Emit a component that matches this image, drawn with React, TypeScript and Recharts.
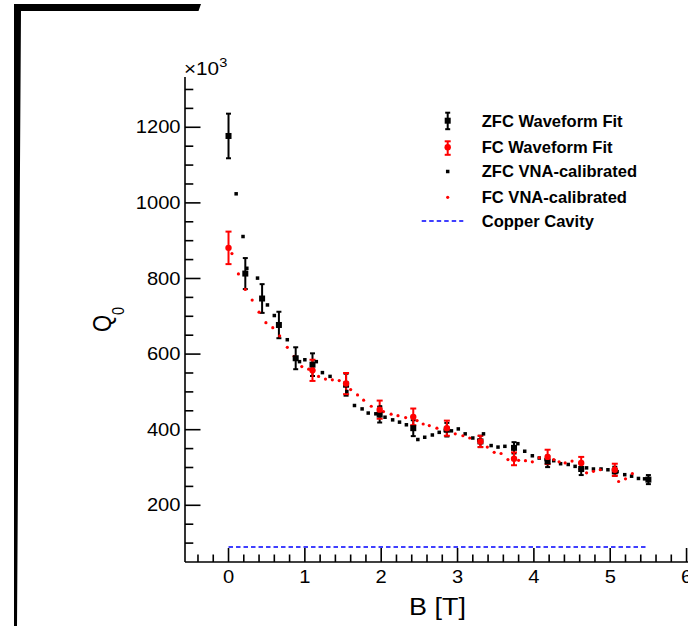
import React from 'react';
import { ComposedChart, Scatter, XAxis, YAxis, ErrorBar, Legend } from 'recharts';

// ---------- data ----------
const zfcFitB = [0, 0.22, 0.44, 0.66, 0.88, 1.10, 1.54, 1.98, 2.42, 2.86, 3.30, 3.74, 4.18, 4.62, 5.06, 5.50];
const zfcFitQ = [1177, 813, 747, 677, 589, 572, 519, 440, 404, 400, 369, 352, 316, 296, 290, 268];
const zfcFitErr = [59, 41, 38, 35, 29, 30, 29, 21, 21, 18, 15, 15, 15, 16, 12, 12];

const fcFitB = [0, 1.10, 1.54, 1.98, 2.42, 2.86, 3.30, 3.74, 4.18, 4.62, 5.06];
const fcFitQ = [881, 557, 522, 453, 434, 404, 369, 323, 328, 312, 294];
const fcFitErr = [43, 28, 28, 24, 22, 20, 15, 17, 19, 16, 16];

const zfcVnaB = [0.10, 0.19, 0.24, 0.38, 0.51, 0.60, 0.77, 0.93, 1.00, 1.15, 1.23, 1.33, 1.55, 1.65, 1.75, 1.83, 1.93, 1.99, 2.05, 2.15, 2.24, 2.33, 2.48, 2.57, 2.67, 2.76, 2.84, 2.92, 3.01, 3.10, 3.20, 3.28, 3.34, 3.44, 3.53, 3.62, 3.79, 3.88, 3.98, 4.07, 4.16, 4.26, 4.35, 4.45, 4.54, 4.69, 4.78, 4.88, 4.97, 5.09, 5.19, 5.28, 5.37, 5.45];
const zfcVnaQ = [1024, 911, 827, 801, 730, 702, 638, 580, 585, 580, 551, 541, 501, 464, 455, 444, 442, 460, 433, 426, 420, 413, 374, 380, 386, 393, 398, 397, 402, 389, 378, 372, 389, 358, 354, 356, 363, 343, 331, 325, 321, 318, 310, 308, 303, 299, 296, 296, 294, 289, 281, 277, 271, 270];

const fcVnaB = [0.045, 0.13, 0.22, 0.31, 0.40, 0.49, 0.58, 0.67, 0.77, 0.86, 0.96, 1.05, 1.18, 1.27, 1.36, 1.45, 1.60, 1.69, 1.77, 1.87, 2.03, 2.13, 2.22, 2.32, 2.47, 2.55, 2.63, 2.73, 2.97, 3.07, 3.16, 3.39, 3.48, 3.57, 3.66, 3.80, 3.89, 3.98, 4.07, 4.26, 4.33, 4.41, 4.50, 4.69, 4.78, 4.87, 5.11, 5.20, 5.29];
const fcVnaQ = [866, 812, 771, 743, 711, 683, 670, 648, 618, 594, 567, 560, 541, 534, 532, 530, 506, 492, 478, 462, 448, 441, 437, 432, 424, 415, 411, 404, 389, 384, 378, 354, 340, 337, 321, 319, 318, 315, 326, 321, 315, 312, 317, 286, 290, 294, 263, 270, 284];

const copperB = [0, 5.5];
const copperQ = [90, 90];

const xMajor = [0, 1, 2, 3, 4, 5, 6];
const yMajor = [200, 400, 600, 800, 1000, 1200];
const xMinorStep = 0.2;
const yMinorStep = 50;

const legendLabels = ['ZFC Waveform Fit', 'FC Waveform Fit', 'ZFC VNA-calibrated', 'FC VNA-calibrated', 'Copper Cavity'];

// ---------- build tables ----------
const zip = (b: number[], q: number[], e?: number[]) =>
  b.map((v, i) => (e ? { b: v, q: q[i], err: e[i] } : { b: v, q: q[i] }));

const zfcFit = zip(zfcFitB, zfcFitQ, zfcFitErr);
const fcFit = zip(fcFitB, fcFitQ, fcFitErr);
const zfcVna = zip(zfcVnaB, zfcVnaQ);
const fcVna = zip(fcVnaB, fcVnaQ);
const copper = zip(copperB, copperQ);

const steps = (from: number, to: number, step: number) => {
  const out: number[] = [];
  for (let v = from; v <= to + 1e-9; v += step) out.push(Math.round(v * 1000) / 1000);
  return out;
};
const xTicks = steps(-0.4, 6.6, xMinorStep);
const yTicks = steps(100, 1300, yMinorStep);

const FONT = '"Liberation Sans", Arial, Helvetica, sans-serif';
const SX = 1.15;

const isMajor = (v: number, majors: number[]) => majors.some((m) => Math.abs(m - v) < 1e-6);

const XTick = (props: any) => {
  const { x, y, payload } = props;
  const v = payload.value;
  const major = isMajor(v, xMajor);
  return (
    <g>
      <line x1={x} x2={x} y1={y} y2={y - (major ? 14 : 7.5)} stroke="#000" strokeWidth={1.6} />
      {major && (
        <text
          transform={`translate(${x},${y + 20.7}) scale(${SX},1)`}
          textAnchor="middle"
          fontSize={17.5}
          fontFamily={FONT}
          fill="#000"
        >
          {String(Math.round(v))}
        </text>
      )}
    </g>
  );
};

const YTick = (props: any) => {
  const { x, y, payload } = props;
  const v = payload.value;
  const major = isMajor(v, yMajor);
  return (
    <g>
      <line x1={x} x2={x + (major ? 15.5 : 8.3)} y1={y} y2={y} stroke="#000" strokeWidth={1.6} />
      {major && (
        <text
          transform={`translate(${x - 4.5},${y + 6.2}) scale(${SX},1)`}
          textAnchor="end"
          fontSize={17.5}
          fontFamily={FONT}
          fill="#000"
        >
          {String(v)}
        </text>
      )}
    </g>
  );
};

const BigSquare = (p: any) => <rect x={p.cx - 3} y={p.cy - 3} width={6} height={6} fill="#000" />;
const BigCircle = (p: any) => <circle cx={p.cx} cy={p.cy} r={3.2} fill="#ff0000" />;
const SmallSquare = (p: any) => <rect x={p.cx - 1.75} y={p.cy - 1.75} width={3.5} height={3.5} fill="#000" />;
const SmallDot = (p: any) => <circle cx={p.cx} cy={p.cy} r={1.6} fill="#ff0000" />;
const NoShape = () => <g />;

const LegendBox = () => {
  const mx = 447.7;
  const tx = 481.7;
  const cy = [120.7, 147.3, 171.5, 197.3, 221];
  return (
    <svg width={688} height={240} style={{ position: 'absolute', left: 0, top: 0, overflow: 'visible' }}>
      {/* row 1 */}
      <line x1={mx} x2={mx} y1={cy[0] - 8} y2={cy[0] + 8.5} stroke="#000" strokeWidth={2} />
      <line x1={mx - 2.5} x2={mx + 2.5} y1={cy[0] - 8} y2={cy[0] - 8} stroke="#000" strokeWidth={2} />
      <line x1={mx - 2.5} x2={mx + 2.5} y1={cy[0] + 8.5} y2={cy[0] + 8.5} stroke="#000" strokeWidth={2} />
      <rect x={mx - 3} y={cy[0] - 3} width={6} height={6} fill="#000" />
      {/* row 2 */}
      <line x1={mx} x2={mx} y1={cy[1] - 6} y2={cy[1] + 7.5} stroke="#ff0000" strokeWidth={2} />
      <line x1={mx - 3} x2={mx + 3} y1={cy[1] - 6} y2={cy[1] - 6} stroke="#ff0000" strokeWidth={2} />
      <line x1={mx - 3} x2={mx + 3} y1={cy[1] + 7.5} y2={cy[1] + 7.5} stroke="#ff0000" strokeWidth={2} />
      <circle cx={mx} cy={cy[1]} r={3.2} fill="#ff0000" />
      {/* row 3 */}
      <rect x={mx - 1.75} y={cy[2] - 1.75} width={3.5} height={3.5} fill="#000" />
      {/* row 4 */}
      <circle cx={mx} cy={cy[3]} r={1.6} fill="#ff0000" />
      {/* row 5 */}
      <line x1={421.7} x2={463.3} y1={cy[4]} y2={cy[4]} stroke="#0000ff" strokeWidth={1.5} strokeDasharray="4.5 3" />
      {legendLabels.map((t, i) => (
        <text
          key={t}
          transform={`translate(${tx},${cy[i] + 5.8}) scale(1.035,1)`}
          fontSize={16}
          fontWeight="bold"
          fontFamily={FONT}
          fill="#000"
        >
          {t}
        </text>
      ))}
    </svg>
  );
};

const XTitle = () => (
  <text transform={`translate(437.5,615) scale(1.1,1)`} textAnchor="middle" fontSize={24.5} fontFamily={FONT} fill="#000">
    B [T]
  </text>
);

const YTitle = () => (
  <text transform="translate(111,332) rotate(-90) scale(1,1.15)" fontSize={22} fontFamily={FONT} fill="#000">
    <tspan>Q</tspan>
    <tspan dy={11} fontSize={14.5}>0</tspan>
  </text>
);

export default function App() {
  return (
    <div style={{ position: 'fixed', left: 0, top: 0, width: 688, height: 626, overflow: 'hidden', background: '#fff' }}>
      <svg width={688} height={626} style={{ position: 'absolute', left: 0, top: 0 }}>
        <polygon points="14,4 201,4 198.5,11 21,11 17,626 14,626" fill="#000" />
      </svg>
      <div style={{ position: 'absolute', left: 0, top: 0 }}>
        <ComposedChart width={740} height={626} margin={{ top: 77, right: 0, bottom: 0, left: 0 }}>
          <XAxis
            xAxisId="top"
            orientation="top"
            type="number"
            dataKey="b"
            domain={[-0.57, 6.7]}
            allowDataOverflow
            height={0}
            tick={false}
            tickLine={false}
            axisLine={{ stroke: '#000', strokeWidth: 1.6 }}
          />
          <XAxis
            type="number"
            dataKey="b"
            domain={[-0.57, 6.7]}
            allowDataOverflow
            ticks={xTicks}
            interval={0}
            height={64}
            tickSize={0}
            tickMargin={0}
            tickLine={false}
            tick={<XTick />}
            axisLine={{ stroke: '#000', strokeWidth: 1.6 }}
            label={{ content: () => <XTitle /> }}
          />
          <YAxis
            type="number"
            dataKey="q"
            domain={[50, 1333]}
            allowDataOverflow
            ticks={yTicks}
            interval={0}
            width={185}
            tickSize={0}
            tickMargin={0}
            tickLine={false}
            tick={<YTick />}
            axisLine={{ stroke: '#000', strokeWidth: 1.6 }}
            label={{ content: () => <YTitle /> }}
          />
          <Scatter
            name="Copper Cavity"
            data={copper}
            isAnimationActive={false}
            line={{ stroke: '#0000ff', strokeWidth: 1.5, strokeDasharray: '4.5 3' }}
            shape={<NoShape />}
          />
          <Scatter name="ZFC VNA-calibrated" data={zfcVna} isAnimationActive={false} shape={<SmallSquare />} />
          <Scatter name="FC VNA-calibrated" data={fcVna} isAnimationActive={false} shape={<SmallDot />} />
          <Scatter name="ZFC Waveform Fit" data={zfcFit} isAnimationActive={false} shape={<BigSquare />}>
            <ErrorBar dataKey="err" direction="y" width={2.5} stroke="#000" strokeWidth={2} />
          </Scatter>
          <Scatter name="FC Waveform Fit" data={fcFit} isAnimationActive={false} shape={<BigCircle />}>
            <ErrorBar dataKey="err" direction="y" width={3} stroke="#ff0000" strokeWidth={2} />
          </Scatter>
          <Legend
            layout="vertical"
            align="center"
            verticalAlign="middle"
            wrapperStyle={{ position: 'absolute', left: 0, top: 0, width: 688, height: 240 }}
            content={() => <LegendBox />}
          />
        </ComposedChart>
      </div>
      <svg width={688} height={626} style={{ position: 'absolute', left: 0, top: 0, pointerEvents: 'none' }}>
        <text transform={`translate(184,75) scale(1.12,1)`} fontSize={18.5} fontFamily={FONT} fill="#000">
          <tspan>×10</tspan>
          <tspan dy={-8.5} fontSize={13}>3</tspan>
        </text>
      </svg>
    </div>
  );
}
